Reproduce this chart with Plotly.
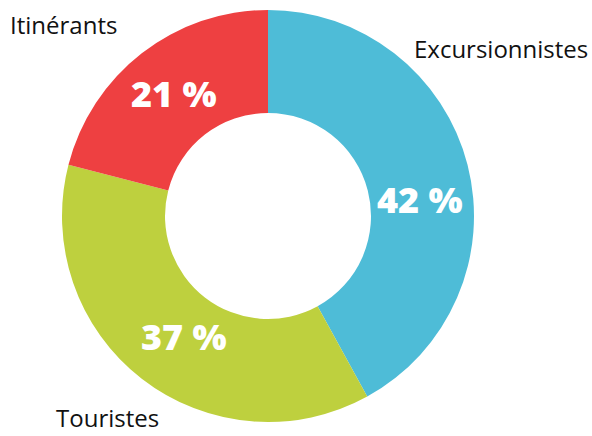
import plotly.graph_objects as go

categories = ["Excursionnistes", "Touristes", "Itinérants"]
values = [42, 37, 21]
colors = ["#4EBCD7", "#BED03E", "#EE4041"]
pct_labels = ["42 %", "37 %", "21 %"]

W, H = 592, 436
fig = go.Figure(go.Pie(
    labels=categories,
    values=values,
    textinfo="none",
    hole=0.5,
    sort=False,
    direction="clockwise",
    rotation=0,
    marker=dict(colors=colors, line=dict(width=0)),
    domain=dict(x=[62 / W, 474 / W], y=[14 / H, 426 / H]),
    showlegend=False,
))

# category name positions (left edge, vertical anchor point) in pixels
label_pos = {
    "Excursionnistes": (412, 48, "middle"),
    "Touristes": (54, 436, "bottom"),
    "Itinérants": (8, 24, "middle"),
}
# percentage label centres in pixels
pct_pos = {
    "Excursionnistes": (420, 199),
    "Touristes": (184, 336),
    "Itinérants": (174, 93),
}
for name, pct in zip(categories, pct_labels):
    x, y, ya = label_pos[name]
    fig.add_annotation(
        x=x / W, y=1 - y / H, xref="paper", yref="paper",
        text=name, showarrow=False, xanchor="left", yanchor=ya,
        font=dict(family="Open Sans", size=24, color="#111111"),
    )
    px, py = pct_pos[name]
    fig.add_annotation(
        x=px / W, y=1 - py / H, xref="paper", yref="paper",
        text=pct, showarrow=False, xanchor="center", yanchor="middle",
        font=dict(family="Open Sans", size=36, color="white", weight=800),
    )

fig.update_layout(
    width=W, height=H,
    margin=dict(l=0, r=0, t=0, b=0),
    paper_bgcolor="white", plot_bgcolor="white",
)
fig.write_html("out.html")
